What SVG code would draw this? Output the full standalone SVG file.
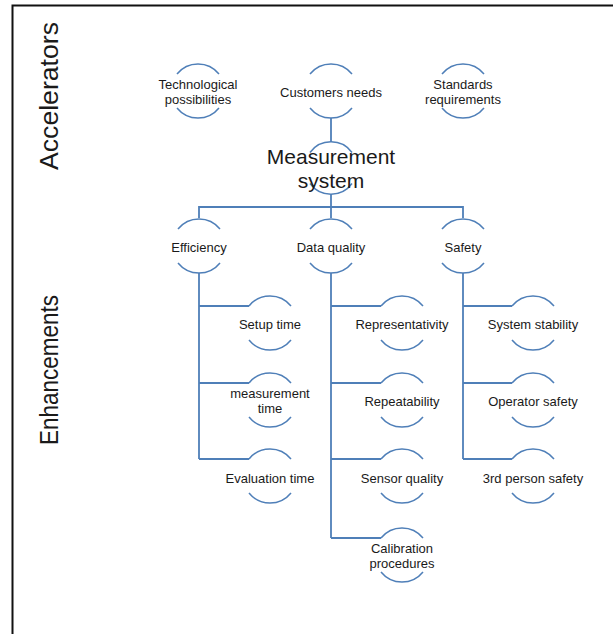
<svg xmlns="http://www.w3.org/2000/svg" width="613" height="634" viewBox="0 0 613 634">
<style>
.arc{fill:none;stroke:#4f7fb8;stroke-width:1.5}
.con{fill:none;stroke:#4f7fb8;stroke-width:1.8}
.t{font-family:"Liberation Sans",Arial,sans-serif;font-size:13px;fill:#1a1a1a;text-anchor:middle}
.big{font-family:"Liberation Sans",Arial,sans-serif;font-size:21px;fill:#1a1a1a;text-anchor:middle}
.side{font-family:"Liberation Sans",Arial,sans-serif;font-size:26px;fill:#1a1a1a;text-anchor:middle}
</style>
<defs>
<path id="n" class="arc" d="M-21,-17 A27,27 0 0 1 21,-17 M-21,17 A27,27 0 0 0 21,17"/>
</defs>
<rect x="0" y="0" width="613" height="634" fill="#fff"/>
<rect x="12.5" y="5.5" width="700" height="700" fill="none" stroke="#111" stroke-width="2"/>
<text class="side" transform="translate(58,96) rotate(-90)" textLength="148" lengthAdjust="spacingAndGlyphs">Accelerators</text>
<text class="side" transform="translate(58,370) rotate(-90)" textLength="150" lengthAdjust="spacingAndGlyphs">Enhancements</text>
<g id="connectors">
<path class="con" d="M331,118 V142 M331,194 V207 M199,218 V207 H463 V218 M331,207 V218"/>
<path class="con" d="M199,273 V459 M199,306 H249 M199,383 H249 M199,459 H249"/>
<path class="con" d="M331,273 V538 M331,306 H381 M331,383 H381 M331,459 H381 M331,538 H381"/>
<path class="con" d="M463,273 V459 M463,306 H512 M463,383 H512 M463,459 H512"/>
</g>
<g id="tech"><use href="#n" x="198" y="91"/><text class="t" x="198" y="88.5">Technological</text><text class="t" x="198" y="103.5">possibilities</text></g>
<g id="customers"><use href="#n" x="331" y="91"/><text class="t" x="331" y="96.5">Customers needs</text></g>
<g id="standards"><use href="#n" x="463" y="91"/><text class="t" x="463" y="88.5">Standards</text><text class="t" x="463" y="103.5">requirements</text></g>
<g id="measurement"><path class="arc" d="M310,152.5 A26,26 0 0 1 352,152.5 M310,183.5 A26,26 0 0 0 352,183.5"/><text class="big" x="331" y="164">Measurement</text><text class="big" x="331" y="188">system</text></g>
<g id="efficiency"><use href="#n" x="199" y="246"/><text class="t" x="199" y="251.5">Efficiency</text></g>
<g id="dataquality"><use href="#n" x="331" y="246"/><text class="t" x="331" y="251.5">Data quality</text></g>
<g id="safety"><use href="#n" x="463" y="246"/><text class="t" x="463" y="251.5">Safety</text></g>
<g id="setup"><use href="#n" x="270" y="323"/><text class="t" x="270" y="328.5">Setup time</text></g>
<g id="meastime"><use href="#n" x="270" y="400"/><text class="t" x="270" y="397.5">measurement</text><text class="t" x="270" y="412.5">time</text></g>
<g id="evaluation"><use href="#n" x="270" y="476"/><text class="t" x="270" y="482.5">Evaluation time</text></g>
<g id="representativity"><use href="#n" x="402" y="323"/><text class="t" x="402" y="328.5">Representativity</text></g>
<g id="repeatability"><use href="#n" x="402" y="400"/><text class="t" x="402" y="405.5">Repeatability</text></g>
<g id="sensor"><use href="#n" x="402" y="476"/><text class="t" x="402" y="482.5">Sensor quality</text></g>
<g id="calibration"><use href="#n" x="402" y="555"/><text class="t" x="402" y="552.5">Calibration</text><text class="t" x="402" y="567.5">procedures</text></g>
<g id="stability"><use href="#n" x="533" y="323"/><text class="t" x="533" y="328.5">System stability</text></g>
<g id="operator"><use href="#n" x="533" y="400"/><text class="t" x="533" y="405.5">Operator safety</text></g>
<g id="thirdperson"><use href="#n" x="533" y="476"/><text class="t" x="533" y="482.5">3rd person safety</text></g>
</svg>
